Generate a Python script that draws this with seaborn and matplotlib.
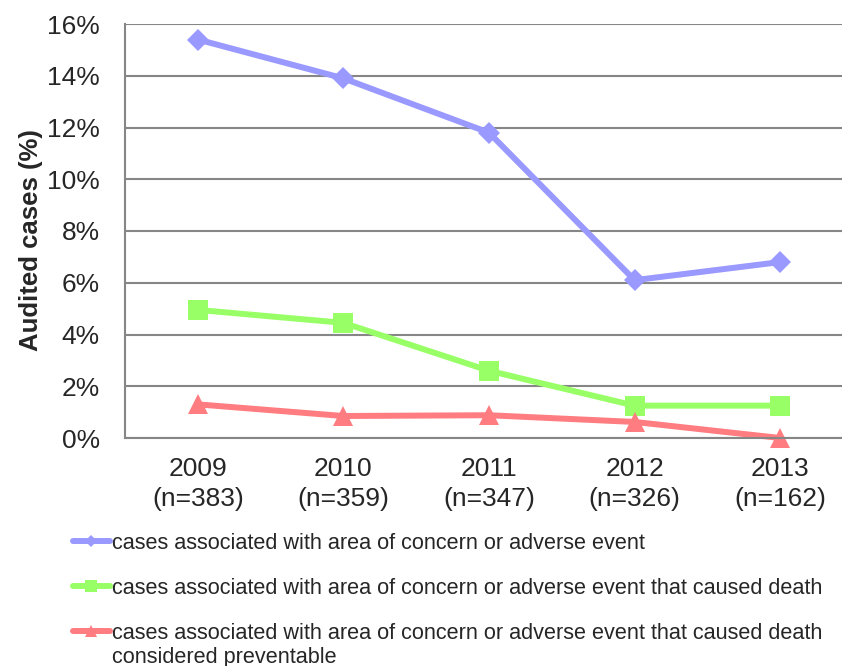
import numpy as np
import pandas as pd
import matplotlib
matplotlib.use('Agg')
import matplotlib.pyplot as plt
import seaborn as sns

# values
years = ['2009', '2010', '2011', '2012', '2013']
n_cases = [383, 359, 347, 326, 162]
concern = [15.4, 13.9, 11.8, 6.1, 6.8]
death = [4.95, 4.45, 2.6, 1.25, 1.25]
preventable = [1.3, 0.85, 0.88, 0.62, 0.0]

labels = ['cases associated with area of concern or adverse event',
          'cases associated with area of concern or adverse event that caused death',
          'cases associated with area of concern or adverse event that caused death']
label_extra = 'considered preventable'
colors = ['#9999FF', '#99FF66', '#FF7C80']
markers = ['D', 's', '^']
sizes = [11, 14, 14]

sns.set_style('white')
plt.rcParams['font.family'] = ['Liberation Sans', 'DejaVu Sans']

fig = plt.figure(figsize=(8.42, 6.66), dpi=100)
ax = fig.add_axes([125 / 842, 228 / 666, 728 / 842, 414 / 666])

x = np.arange(len(years))
for vals, lab, c, m, s in zip([concern, death, preventable], labels, colors, markers, sizes):
    df = pd.DataFrame({'x': x, 'y': vals})
    sns.lineplot(data=df, x='x', y='y', ax=ax, color=c, marker=m, markersize=s,
                 markeredgewidth=0, linewidth=4.3, label=lab, clip_on=False)

ax.set_xlim(-0.5, 4.5)
ax.set_ylim(0, 16)
ax.set_yticks(range(0, 17, 2))
ax.set_yticklabels([f'{v}%' for v in range(0, 17, 2)], fontsize=19)
ax.set_xticks(x)
ax.set_xticklabels([f'{y}\n(n={n})' for y, n in zip(years, n_cases)], fontsize=19,
                   linespacing=1.3)
ax.set_xticks(np.arange(-0.5, 5, 1), minor=True)
ax.tick_params(axis='x', which='major', length=0, pad=14)
ax.tick_params(axis='x', which='minor', length=6, width=1.5, color='#868686', direction='out')
ax.tick_params(axis='y', length=6, width=1.5, color='#868686', direction='out', pad=12)
ax.grid(axis='y', color='#868686', linewidth=1.5)
ax.set_axisbelow(True)
for side in ['top', 'right']:
    ax.spines[side].set_visible(False)
for side in ['left', 'bottom']:
    ax.spines[side].set_color('#868686')
    ax.spines[side].set_linewidth(1.5)

ax.set_xlabel('')
ax.set_ylabel('Audited cases (%)', fontsize=18.5, fontweight='bold')
ax.yaxis.set_label_coords(-82 / 728, (438 - 240) / 414)

ax.get_legend().remove()
handles, labs = ax.get_legend_handles_labels()
fig.legend(handles, labs, loc='upper left', bbox_to_anchor=(73 / 842, 1 - 533 / 666),
           frameon=False, fontsize=15.6, handlelength=1.7, handletextpad=0.1,
           labelspacing=1.1, borderaxespad=0, borderpad=0, markerscale=0.6)
fig.text(112 / 842, 1 - 657 / 666, label_extra, fontsize=15.6, va='center', ha='left')

fig.savefig('out.png', dpi=100)
